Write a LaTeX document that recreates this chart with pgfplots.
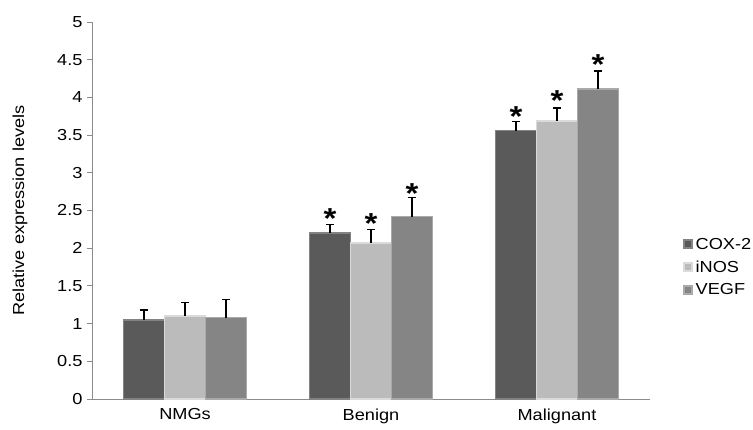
\documentclass[border=0pt]{standalone}
\usepackage{pgfplots}
\pgfplotsset{compat=1.18}
\usepackage{fontspec}
\setmainfont{Liberation Sans}[FakeStretch=1.14]
\definecolor{coxc}{HTML}{5A5A5A}
\definecolor{inosc}{HTML}{BBBBBB}
\definecolor{vegfc}{HTML}{858585}
\definecolor{axc}{HTML}{8C8C8C}
\begin{document}
\begin{tikzpicture}
\begin{axis}[
  scale only axis,
  width=558bp, height=377bp,
  xmin=-0.5, xmax=2.5,
  ymin=0, ymax=5,
  ytick={0,0.5,...,5},
  yticklabels={0,0.5,1,1.5,2,2.5,3,3.5,4,4.5,5},
  xtick={0,1,2},
  xticklabels={NMGs,Benign,Malignant},
  extra x ticks={-0.5,0.5,1.5,2.5},
  extra x tick labels={},
  extra x tick style={major tick length=6bp, tick style={axc, line width=0.8bp}},
  major x tick style={draw=none},
  axis x line*=bottom,
  axis y line*=left,
  axis line style={axc, line width=0.8bp},
  y axis line style={-},
  x axis line style={-},
  tick align=outside,
  major tick length=5bp,
  ytick style={axc, line width=0.8bp},
  tick label style={font=\fontsize{16}{18}\selectfont},
  yticklabel style={xshift=-1bp},
  /pgf/number format/assume math mode=true,
  ylabel={Relative expression levels},
  ylabel style={font=\fontsize{16}{18}\selectfont, at={(axis description cs:-0.129,0.5)}, anchor=center},
  xticklabel style={yshift=-1bp},
  legend style={draw=none, fill=none, inner sep=0pt, at={(1.059,0.35)}, anchor=west, font=\fontsize{16}{18}\selectfont, row sep=6bp,
    nodes={inner xsep=3bp}},
  legend cell align=left,
  legend image code/.code={\draw[#1] (0bp,-4bp) rectangle (8bp,4bp);},
  error bars/y dir=plus,
  error bars/y explicit,
  error bars/error bar style={black, line width=1.3bp},
  error bars/error mark options={rotate=90, mark size=4bp, line width=1.3bp, black},
  bar width=0.22,
  clip=false,
]
\addplot[ybar, bar shift=0, fill=coxc, draw=coxc!75!white, line width=1.5bp]
  coordinates {(-0.22,1.05) +- (0,0.13) (0.78,2.20) +- (0,0.11) (1.78,3.56) +- (0,0.12)};
\addlegendentry{COX-2}
\addplot[ybar, bar shift=0, fill=inosc, draw=inosc!55!white, line width=1.5bp]
  coordinates {(0,1.10) +- (0,0.18) (1,2.07) +- (0,0.18) (2,3.69) +- (0,0.17)};
\addlegendentry{iNOS}
\addplot[ybar, bar shift=0, fill=vegfc, draw=vegfc!70!white, line width=1.5bp]
  coordinates {(0.22,1.08) +- (0,0.24) (1.22,2.42) +- (0,0.25) (2.22,4.11) +- (0,0.24)};
\addlegendentry{VEGF}
\addplot[draw=none, mark=none, forget plot,
  nodes near coords={*},
  every node near coord/.style={anchor=center, inner sep=0pt, font=\fontsize{29}{29}\selectfont\bfseries, yshift=-6bp}]
  coordinates {(0.78,2.47) (1,2.41) (1.22,2.81) (1.78,3.83) (2,4.04) (2.22,4.52)};
\end{axis}
\pgfresetboundingbox
\path[use as bounding box] ([shift={(-92bp,-31bp)}]current axis.south west) rectangle ([shift={(103bp,22bp)}]current axis.north east);
\end{tikzpicture}
\end{document}
